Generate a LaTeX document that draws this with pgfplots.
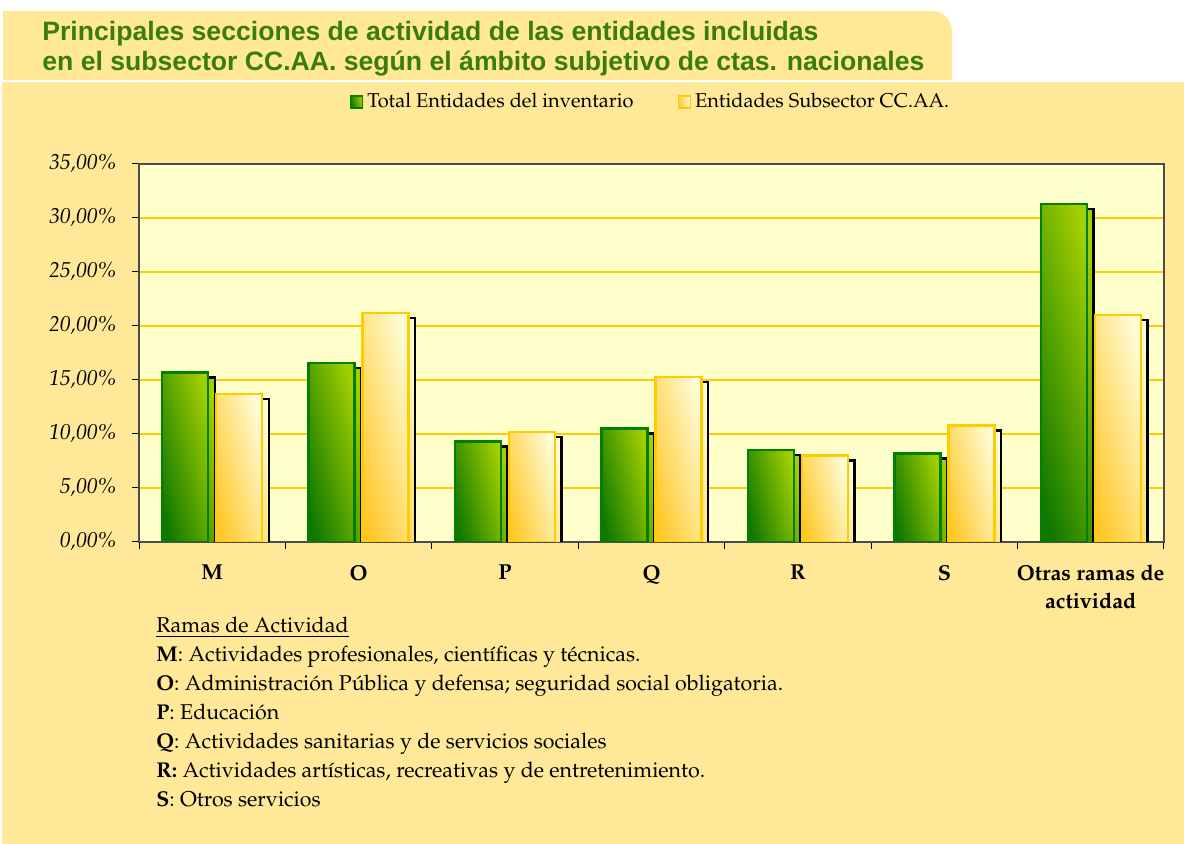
\documentclass[border=0pt]{standalone}
\usepackage[T1]{fontenc}
\usepackage{fontspec}
\usepackage{pgfplots}
\pgfplotsset{compat=1.18}
\newfontfamily\titlefont{Liberation Sans}
\newcommand\pal{\fontencoding{T1}\fontfamily{ppl}\selectfont}

\definecolor{bgyellow}{HTML}{FFE999}
\definecolor{plotbg}{HTML}{FFFFCC}
\definecolor{gridgold}{HTML}{FFCC00}
\definecolor{titlegreen}{HTML}{3A7D0A}
\definecolor{gdark}{HTML}{107800}
\definecolor{glight}{HTML}{A2CF00}
\definecolor{gedge}{HTML}{008000}
\definecolor{ydark}{HTML}{FFC829}
\definecolor{ylight}{HTML}{FFFCD8}
\definecolor{yedge}{HTML}{FFCC00}

\tikzset{
  greenbar/.style={left color=gdark, right color=glight, shading angle=104, draw=gedge, line width=1.2pt},
  yellowbar/.style={left color=ydark, right color=ylight, shading angle=104, draw=yedge, line width=1.2pt},
  shadowed/.style={preaction={fill=black, draw=black, transform canvas={xshift=3.3pt, yshift=-2.5pt}}},
}
\pgfplotsset{
  gb/.style={greenbar, shadowed, bar shift=-13.5pt, forget plot},
  yb/.style={yellowbar, shadowed, bar shift=13.5pt, forget plot},
}

\begin{document}
\begin{tikzpicture}
% page and backgrounds
\fill[white] (0pt,0pt) rectangle (592pt,422pt);
\fill[bgyellow] (1pt,0pt) rectangle (592pt,381pt);
\fill[bgyellow] (1.5pt,382pt) -- (1.5pt,416.5pt) {[rounded corners=10pt] -- (476pt,416.5pt)} -- (476pt,382pt) -- cycle;

\node[anchor=north west, align=left, inner sep=0pt, text=titlegreen,
  font=\titlefont\bfseries\fontsize{13.3}{15}\selectfont] at (21pt,411.5pt)
  {Principales secciones de actividad de las entidades incluidas\\
   en el subsector CC.AA. según el ámbito subjetivo de ctas. nacionales};

\begin{axis}[
  at={(69.5pt,151pt)}, anchor=south west,
  scale only axis, width=512.5pt, height=189pt,
  axis background/.style={fill=plotbg},
  xmin=-0.5, xmax=6.5, ymin=0, ymax=35,
  ybar, bar width=23pt,
  ytick={0,5,...,35},
  yticklabel={\pgfmathprintnumber[fixed,fixed zerofill,precision=2,use comma,assume math mode=true]{\tick}\%},
  yticklabel style={font=\pal\itshape\fontsize{10.8}{12}\selectfont, xshift=-4pt},
  xtick={-0.5,0.5,...,6.5}, xticklabels={},
  extra x ticks={0,1,2,3,4,5,6},
  extra x tick labels={M,O,P,Q,R,S,{Otras ramas de\\actividad}},
  extra x tick style={major tick length=0pt,
    xticklabel style={font=\pal\bfseries\fontsize{10.8}{14}\selectfont, align=center, yshift=-8pt}},
  tick align=outside, xtick pos=bottom, ytick pos=left,
  major tick length=3.5pt,
  tick style={black, line width=0.5pt},
  ymajorgrids, grid style={gridgold, line width=1pt},
  axis line style={gray!60!black, line width=0.8pt},
  legend style={at={(0.5,1.164)}, anchor=center, draw=none, fill=none,
    font=\pal\fontsize{10}{12}\selectfont, legend columns=2,
    /tikz/every even column/.append style={column sep=20pt}},
  legend cell align=left,
]
% Total Entidades del inventario
\addplot[gb] coordinates {(0,15.7)};
\addplot[gb] coordinates {(1,16.6)};
\addplot[gb] coordinates {(2,9.3)};
\addplot[gb] coordinates {(3,10.5)};
\addplot[gb] coordinates {(4,8.5)};
\addplot[gb] coordinates {(5,8.2)};
\addplot[gb] coordinates {(6,31.3)};
% Entidades Subsector CC.AA.
\addplot[yb] coordinates {(0,13.7)};
\addplot[yb] coordinates {(1,21.2)};
\addplot[yb] coordinates {(2,10.2)};
\addplot[yb] coordinates {(3,15.3)};
\addplot[yb] coordinates {(4,8.0)};
\addplot[yb] coordinates {(5,10.8)};
\addplot[yb] coordinates {(6,21.0)};

\addlegendimage{legend image code/.code={\draw[greenbar, line width=0.8pt] (0pt,-3pt) rectangle (6pt,3pt);}}
\addlegendentry{Total Entidades del inventario}
\addlegendimage{legend image code/.code={\draw[yellowbar, line width=0.8pt] (0pt,-3pt) rectangle (6pt,3pt);}}
\addlegendentry{Entidades Subsector CC.AA.}
\end{axis}

\node[anchor=north west, align=left, inner sep=0pt,
  font=\pal\fontsize{10.7}{14.5}\selectfont] at (78pt,113.5pt)
  {\underline{Ramas de Actividad}\\
   \textbf{M}: Actividades profesionales, científicas y técnicas.\\
   \textbf{O}: Administración Pública y defensa; seguridad social obligatoria.\\
   \textbf{P}: Educación\\
   \textbf{Q}: Actividades sanitarias y de servicios sociales\\
   \textbf{R:} Actividades artísticas, recreativas y de entretenimiento.\\
   \textbf{S}: Otros servicios};
\end{tikzpicture}
\end{document}
